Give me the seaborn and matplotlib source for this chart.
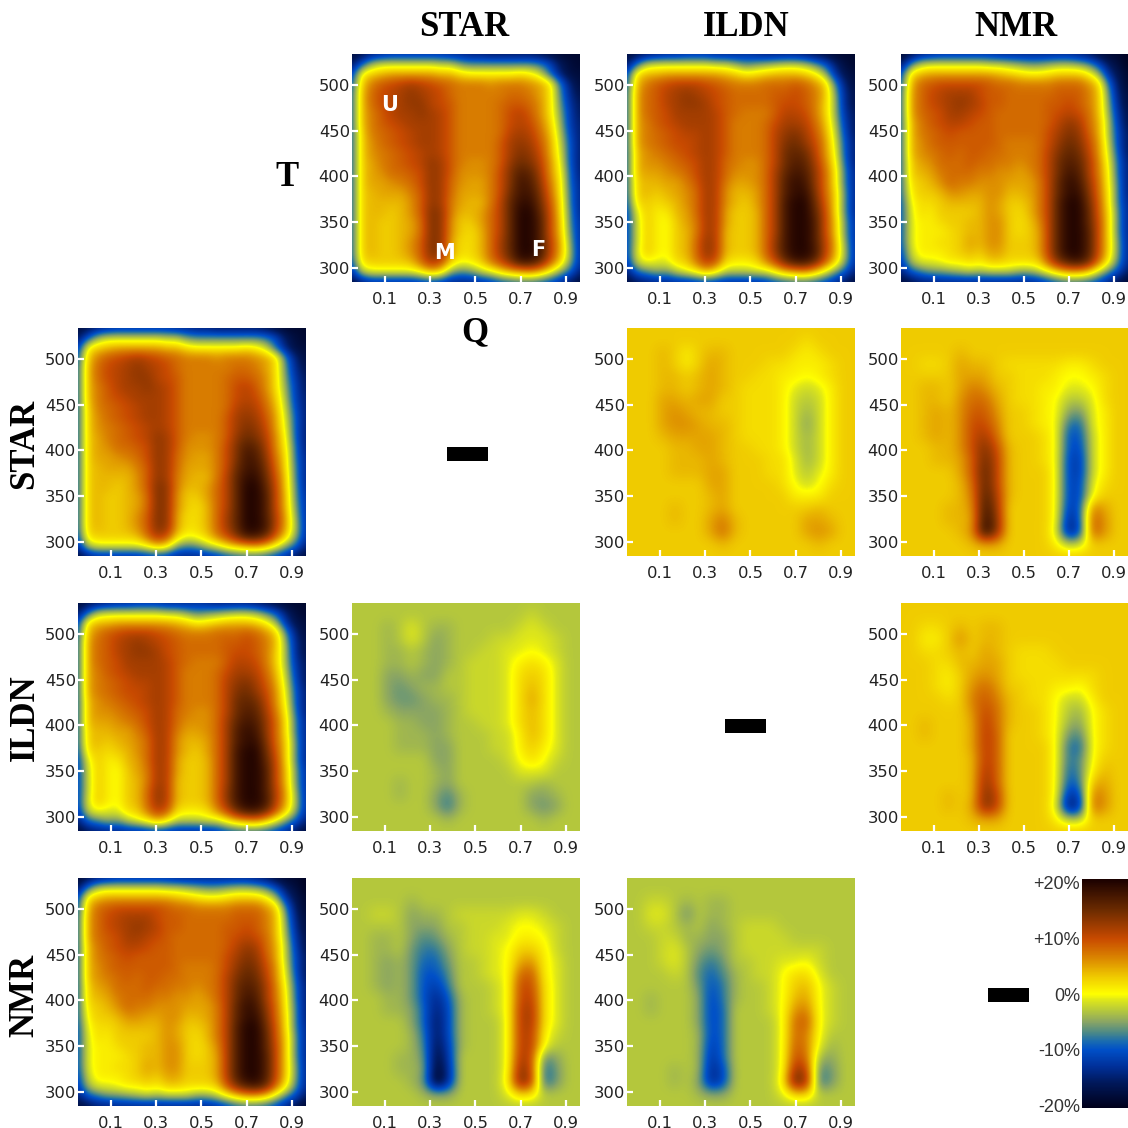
import numpy as np
import pandas as pd
import seaborn as sns
import matplotlib
matplotlib.use("Agg")
import matplotlib.pyplot as plt
from matplotlib.colors import LinearSegmentedColormap, Normalize
from matplotlib.patches import Rectangle

# Population maps (percent-colour scale), rows run from high T to low T
DIST_STAR = [
[-18,-17,-15,-14,-13,-13,-13,-13,-13,-13,-14,-14,-15,-15,-16,-16,-16,-16,-16,-17,-18,-19,-19,-19],
[-16,-10,-4,-2,-2,-2,-2,-2,-2,-3,-3,-6,-7,-7,-7,-7,-7,-7,-7,-8,-11,-16,-18,-19],
[-12,1,3,4,5,5,5,5,5,4,4,2,1,1,1,1,1,2,1,-2,-9,-15,-18,-18],
[-10,3,7,9,10,11,12,11,10,9,8,7,7,7,6,7,7,7,6,5,2,-8,-15,-18],
[-9,4,8,10,11,12,13,12,11,10,8,7,7,7,7,7,8,8,7,5,2,-7,-14,-17],
[-9,4,8,10,11,12,13,13,11,10,9,7,7,7,7,8,9,9,8,6,2,-6,-13,-16],
[-9,4,7,9,11,12,12,13,12,11,9,7,7,7,7,8,10,11,9,6,2,-5,-12,-16],
[-9,4,7,9,10,11,12,12,12,11,9,7,7,7,7,8,10,11,10,7,3,-4,-12,-15],
[-9,3,7,8,9,10,11,12,12,11,9,7,7,7,7,8,11,12,11,8,4,-3,-11,-15],
[-9,3,6,8,9,10,11,12,12,11,9,7,7,7,7,9,12,13,12,9,5,-2,-10,-15],
[-9,3,6,7,8,9,10,11,12,11,9,7,7,7,7,9,12,14,13,10,5,-1,-10,-15],
[-9,3,5,7,8,9,10,11,13,12,9,7,6,6,7,9,13,15,14,11,6,0,-10,-15],
[-9,3,5,6,8,8,9,10,13,12,9,6,6,6,7,10,14,17,16,12,6,1,-9,-15],
[-9,3,5,5,6,7,8,10,13,12,8,6,5,5,7,10,14,18,17,13,7,2,-9,-14],
[-9,3,4,5,5,5,7,9,13,12,8,5,5,5,7,10,15,18,18,14,8,2,-8,-14],
[-9,3,4,4,4,4,6,9,13,12,7,5,4,4,7,11,16,19,19,15,9,3,-8,-14],
[-9,3,4,4,3,4,6,9,14,13,7,4,4,5,8,11,16,20,20,16,10,3,-7,-14],
[-9,3,4,3,3,4,5,8,14,13,6,3,3,5,8,11,16,20,20,17,10,4,-7,-13],
[-9,3,4,3,3,4,5,8,14,13,6,3,2,4,8,11,16,20,20,17,10,4,-6,-13],
[-9,3,4,3,3,4,6,9,14,13,5,2,2,4,8,12,16,20,20,17,11,5,-5,-13],
[-9,3,4,3,3,4,6,9,14,13,5,2,2,4,8,12,16,20,20,18,11,5,-4,-13],
[-10,2,3,3,3,3,4,8,12,10,3,0,1,3,7,10,14,18,18,15,9,3,-5,-13],
[-13,-3,-1,-1,-1,-1,-1,1,4,2,-5,-7,-6,-3,-1,2,4,5,6,4,0,-5,-9,-15],
[-18,-15,-13,-13,-13,-13,-13,-12,-11,-12,-14,-14,-14,-13,-12,-10,-9,-8,-8,-9,-11,-13,-16,-18],
]
DIST_ILDN = [
[-18,-17,-16,-15,-14,-14,-13,-13,-13,-14,-14,-14,-13,-14,-15,-15,-15,-15,-16,-17,-18,-19,-19,-19],
[-16,-9,-3,-2,-2,-2,-2,-2,-2,-3,-3,-5,-7,-6,-5,-4,-3,-3,-4,-7,-10,-15,-18,-19],
[-11,2,4,4,5,5,5,5,5,5,4,3,1,2,3,4,4,4,3,1,-4,-13,-17,-18],
[-10,4,7,9,10,11,11,11,10,9,8,7,7,7,8,8,8,9,8,6,3,-7,-15,-18],
[-9,5,8,9,11,12,13,12,11,10,9,8,8,8,8,9,9,10,9,7,4,-5,-14,-17],
[-9,5,8,9,11,12,13,13,12,10,9,8,8,8,8,9,10,10,9,7,3,-4,-14,-17],
[-9,5,8,9,10,12,12,12,12,11,9,8,7,7,7,9,11,11,10,7,3,-4,-13,-16],
[-9,5,7,9,10,11,12,12,12,11,9,7,7,7,8,10,12,12,11,8,4,-3,-12,-16],
[-9,5,7,8,9,10,11,11,12,11,9,7,7,7,8,11,13,14,12,9,5,-2,-11,-16],
[-9,5,7,8,9,10,10,11,12,11,9,7,7,7,8,11,14,15,13,10,6,-1,-10,-15],
[-9,4,6,7,8,9,10,11,12,11,9,7,7,7,8,11,15,16,15,11,6,0,-10,-15],
[-9,4,6,6,7,8,9,10,12,11,8,7,6,6,8,11,15,17,16,12,7,1,-9,-15],
[-9,4,5,5,6,7,8,10,12,11,8,6,6,6,8,12,16,18,17,13,8,2,-8,-14],
[-9,3,4,4,5,5,7,9,12,11,7,5,5,6,8,12,17,19,18,13,8,2,-8,-14],
[-9,3,4,3,4,5,6,8,12,11,6,4,4,5,8,12,17,19,19,14,8,3,-7,-14],
[-10,2,3,2,3,4,6,8,12,11,6,4,3,5,8,12,18,20,20,15,9,3,-7,-14],
[-11,-1,3,1,1,4,5,8,12,11,5,3,3,4,8,12,18,20,20,16,10,3,-7,-14],
[-11,-2,3,1,0,3,5,7,12,11,5,3,3,4,8,12,18,20,20,17,10,4,-6,-13],
[-11,-2,3,1,0,3,4,7,12,11,4,3,3,4,8,12,18,20,20,17,10,4,-6,-13],
[-11,-2,3,1,0,3,4,8,13,11,4,3,3,4,8,13,18,20,20,17,11,5,-5,-13],
[-11,-1,3,1,0,3,4,8,13,11,4,3,3,4,8,13,18,20,20,18,11,5,-4,-13],
[-12,-2,0,-1,-1,2,3,7,11,9,2,1,1,2,6,10,15,18,18,15,9,3,-5,-13],
[-15,-9,-7,-5,-6,-3,-1,1,4,1,-3,-3,-3,-2,-2,1,4,5,6,3,-1,-6,-10,-15],
[-18,-16,-15,-14,-14,-13,-13,-12,-11,-12,-13,-13,-13,-13,-12,-10,-9,-8,-8,-9,-11,-13,-16,-18],
]
DIST_NMR = [
[-19,-17,-15,-14,-13,-13,-13,-13,-13,-13,-14,-14,-14,-14,-14,-14,-14,-14,-15,-16,-18,-19,-19,-20],
[-16,-8,-3,-2,-2,-2,-2,-2,-2,-3,-3,-4,-5,-6,-6,-5,-4,-4,-5,-7,-11,-16,-18,-20],
[-11,2,4,5,5,5,5,5,5,5,4,3,2,1,1,2,3,3,3,1,-4,-13,-17,-19],
[-10,4,8,9,10,10,10,10,10,9,8,8,7,7,7,7,8,8,8,6,3,-8,-16,-19],
[-9,5,8,10,11,12,12,12,10,9,9,8,8,8,8,8,9,9,9,7,4,-6,-15,-18],
[-9,5,8,10,11,12,13,12,11,9,9,8,8,8,8,9,9,10,9,7,4,-5,-14,-18],
[-9,5,8,9,10,12,12,11,10,9,8,8,8,8,8,9,10,11,10,8,4,-4,-13,-17],
[-9,4,7,9,10,11,11,10,9,9,8,8,8,8,8,9,11,13,12,8,5,-3,-12,-17],
[-9,4,7,8,9,10,9,9,9,9,8,8,8,8,8,10,12,14,13,9,5,-3,-11,-16],
[-9,4,6,8,9,9,9,9,9,9,8,7,7,7,8,10,13,15,14,10,6,-2,-11,-16],
[-9,4,6,7,8,9,8,9,9,8,8,7,7,7,8,11,14,16,15,11,6,-1,-10,-16],
[-9,3,5,6,8,8,8,9,8,8,7,7,6,7,8,11,15,17,16,12,7,0,-9,-15],
[-9,3,4,5,7,8,8,8,7,7,6,6,5,6,8,11,15,18,17,12,7,1,-9,-15],
[-9,2,3,4,6,8,7,7,6,6,6,5,5,5,7,11,16,19,18,13,8,1,-8,-15],
[-9,1,3,3,4,6,6,5,5,6,6,4,4,5,7,11,16,19,19,14,8,2,-8,-15],
[-10,0,2,2,3,4,4,4,4,6,5,3,3,4,7,11,17,20,20,15,9,2,-8,-14],
[-10,-1,2,1,3,3,3,3,4,6,5,3,2,4,7,11,17,20,20,16,9,3,-7,-14],
[-10,-1,1,1,2,3,3,4,4,6,6,3,2,3,6,11,17,20,20,16,10,3,-7,-14],
[-10,-1,1,1,1,2,3,4,4,6,6,3,2,3,5,11,17,20,20,17,10,3,-7,-14],
[-10,-1,1,1,2,2,3,5,4,6,6,3,3,3,5,11,17,20,20,17,10,3,-6,-14],
[-11,-2,1,1,1,2,3,4,3,5,5,3,3,3,5,11,17,20,20,17,10,3,-6,-14],
[-12,-4,-1,-1,0,1,1,2,1,3,3,2,2,2,3,9,14,17,18,15,8,1,-7,-14],
[-15,-10,-8,-6,-6,-5,-4,-3,-4,-3,-3,-3,-5,-5,-3,0,3,5,5,3,-2,-7,-11,-16],
[-18,-17,-15,-15,-14,-14,-14,-14,-14,-14,-14,-14,-14,-14,-13,-11,-9,-8,-8,-9,-11,-14,-17,-19],
]

# Difference maps in percent
DIFF_STAR_ILDN = [
[3,3,3,3,3,3,3,3,3,3,3,3,3,3,3,3,3,3,3,3],
[3,3,3,3,3,3,3,3,3,3,3,3,3,3,3,2,3,3,3,3],
[3,3,3,4,3,1,3,4,4,3,3,3,3,3,2,1,2,3,3,3],
[3,3,3,4,3,1,3,5,4,3,3,3,2,2,1,1,1,2,3,3],
[3,3,3,4,4,3,4,5,4,3,3,2,2,1,1,0,1,2,3,3],
[3,3,3,4,4,3,4,5,4,3,2,2,2,1,-1,-2,-1,1,3,3],
[3,3,3,5,5,4,5,5,3,3,2,2,2,1,-2,-3,-2,1,3,3],
[3,3,3,5,6,5,4,4,3,3,2,2,2,1,-2,-4,-2,1,3,3],
[3,3,3,5,6,6,5,4,4,3,2,2,2,1,-2,-5,-2,1,3,3],
[3,3,3,4,5,5,5,5,4,3,2,2,2,1,-2,-4,-2,1,3,3],
[3,3,3,3,4,4,5,5,4,3,3,2,2,1,-2,-4,-2,1,3,3],
[3,3,3,3,4,4,4,5,4,3,3,3,2,2,-1,-4,-2,1,3,3],
[3,3,3,3,4,4,4,5,5,3,3,3,2,2,-1,-3,-1,1,3,3],
[3,3,3,3,3,3,3,5,5,3,3,3,3,2,0,-2,0,2,3,3],
[3,3,3,3,3,3,3,4,5,3,3,3,3,3,1,1,1,3,3,3],
[3,3,3,3,4,3,3,4,5,3,3,3,3,3,3,3,4,3,3,3],
[3,3,3,3,4,3,3,5,7,4,3,3,3,3,3,5,5,4,3,3],
[3,3,3,3,3,3,3,5,8,4,3,3,3,3,3,5,6,5,3,3],
[3,3,3,3,3,3,3,3,4,3,3,3,3,3,3,3,4,3,3,3],
[3,3,3,3,3,3,3,3,3,3,3,3,3,3,3,3,3,3,3,3],
]
DIFF_STAR_NMR = [
[3,3,3,3,3,3,3,3,3,3,3,3,3,3,3,3,3,3,3,3],
[3,3,3,3,3,3,3,3,3,3,3,3,3,3,3,3,3,3,3,3],
[3,3,3,3,3,4,3,3,3,3,3,3,3,3,3,3,3,3,3,3],
[3,3,2,2,3,5,4,4,3,2,2,2,2,2,1,1,2,3,3,3],
[3,3,3,3,3,5,5,5,3,3,2,2,2,1,0,0,1,2,3,3],
[3,3,4,4,3,5,7,6,4,3,2,2,1,1,-1,-1,0,2,3,3],
[3,3,4,4,3,6,8,8,5,3,2,2,1,0,-3,-3,-1,2,3,3],
[3,3,4,5,4,6,9,9,6,3,3,2,1,0,-5,-6,-1,1,3,3],
[3,3,4,5,4,6,10,10,7,3,3,2,1,0,-8,-9,-1,1,3,3],
[3,3,4,5,4,6,10,12,8,3,3,3,2,0,-10,-10,-2,1,3,3],
[3,3,3,4,4,6,10,14,10,4,3,3,2,0,-10,-11,-2,1,3,3],
[3,3,3,4,4,5,9,15,11,4,3,3,2,0,-11,-12,-2,1,3,3],
[3,3,3,3,3,5,9,16,11,4,3,3,3,0,-11,-12,-2,1,3,3],
[3,3,3,3,3,4,8,16,11,4,3,3,3,0,-11,-11,-1,2,3,3],
[3,3,3,3,3,4,7,17,12,4,3,3,3,0,-11,-11,0,3,3,3],
[3,3,3,3,4,4,6,18,13,3,3,3,3,0,-12,-10,7,5,3,3],
[3,3,3,3,4,4,5,19,14,3,3,3,3,0,-14,-10,9,6,3,3],
[3,3,3,3,3,4,6,20,14,3,3,3,3,-1,-15,-11,9,6,3,3],
[3,3,3,3,3,3,4,5,5,3,3,3,3,1,-3,-2,3,3,3,3],
[3,3,3,3,3,3,3,3,3,3,3,3,3,3,3,3,3,3,3,3],
]
DIFF_ILDN_NMR = [
[3,3,3,3,3,3,3,3,3,3,3,3,3,3,3,3,3,3,3,3],
[3,3,3,3,3,3,3,3,3,3,3,3,3,3,3,3,3,3,3,3],
[3,3,2,2,3,4,3,4,4,3,3,3,3,3,3,3,3,3,3,3],
[3,3,1,1,3,6,3,4,4,3,3,3,3,3,3,3,3,3,3,3],
[3,3,2,2,3,4,3,5,4,3,2,2,2,3,3,3,3,3,3,3],
[3,3,3,2,2,4,4,5,5,3,2,2,2,2,3,3,3,3,3,3],
[3,3,3,2,1,3,5,6,5,3,2,2,2,2,2,2,2,3,3,3],
[3,3,3,2,1,3,6,8,6,3,3,2,2,1,1,0,2,3,3,3],
[3,3,3,3,2,3,7,9,7,4,3,2,2,0,-2,-2,1,3,3,3],
[3,3,3,3,3,3,6,10,8,4,3,3,2,0,-3,-4,0,2,3,3],
[3,3,4,3,3,3,5,11,8,4,3,3,2,0,-4,-5,0,2,3,3],
[3,3,4,3,3,3,5,11,9,3,3,3,2,0,-6,-7,0,2,3,3],
[3,3,3,3,3,3,5,11,9,3,3,3,3,0,-8,-9,0,2,3,3],
[3,3,3,3,3,3,4,11,9,3,3,3,3,0,-8,-7,0,3,3,3],
[3,3,3,3,3,3,4,12,9,3,3,3,3,0,-9,-7,1,4,3,3],
[3,3,3,3,3,3,4,13,9,3,3,3,3,0,-10,-8,4,5,3,3],
[3,3,3,3,4,3,4,14,11,3,3,3,3,0,-13,-11,7,6,3,3],
[3,3,3,3,4,3,5,14,11,3,3,3,3,-1,-16,-13,8,6,3,3],
[3,3,3,3,3,3,4,5,5,3,3,3,3,1,-3,-3,3,3,3,3],
[3,3,3,3,3,3,3,3,3,3,3,3,3,3,3,3,3,3,3,3],
]

Q_TICKS = [0.1, 0.3, 0.5, 0.7, 0.9]
T_TICKS = [500, 450, 400, 350, 300]
Q_RANGE = (-0.046, 0.963)
T_RANGE = (284.5, 534.0)
METHODS = ["STAR", "ILDN", "NMR"]
CBAR_TICKS = [20, 10, 0, -10, -20]
CBAR_LABELS = ["+20%", "+10%", "0%", "-10%", "-20%"]
VMIN, VMAX = -20.5, 20.7

STOPS = [(-20.5, "#00001a"), (-16, "#00185a"), (-13, "#00309a"), (-10, "#0050c8"),
         (-8.5, "#1a6cb0"), (-7, "#4a8888"), (-5, "#8aa564"), (-3, "#b5c83c"),
         (-1, "#e0e818"), (0, "#ffff00"), (3, "#f0cc00"), (5, "#e4a400"),
         (7, "#d87c00"), (10, "#c84a00"), (15, "#6e2c00"), (20.7, "#1a0000")]
cmap = LinearSegmentedColormap.from_list(
    "pct", [((v - VMIN) / (VMAX - VMIN), c) for v, c in STOPS], N=512)
norm = Normalize(VMIN, VMAX)

sns.set_theme(style="white", rc={"axes.grid": False})
W = 1128.0
fig = plt.figure(figsize=(11.28, 11.28), dpi=100)
fig.patch.set_facecolor("white")
XS = [78, 352, 627, 901]
YS = [54, 328, 603, 878]
SIZE = 228


def px_axes(x, y, w, h):
    return fig.add_axes([x / W, 1 - (y + h) / W, w / W, h / W])


def panel(col, row, grid):
    ax = px_axes(XS[col], YS[row], SIZE - (1 if col == 3 else 0), SIZE)
    arr = np.asarray(grid, dtype=float)
    m, n = arr.shape
    frame = pd.DataFrame(arr)
    sns.heatmap(frame, ax=ax, cmap=cmap, norm=norm, cbar=False,
                xticklabels=False, yticklabels=False)
    ax.collections[0].remove()
    ax.imshow(arr, cmap=cmap, norm=norm, extent=(0, n, m, 0), aspect="auto",
              interpolation="bicubic", interpolation_stage="data")
    ax.set_xlim(0.5, n - 0.5)
    ax.set_ylim(m - 0.5, 0.5)
    qx = [0.5 + (q - Q_RANGE[0]) / (Q_RANGE[1] - Q_RANGE[0]) * (n - 1) for q in Q_TICKS]
    ty = [0.5 + (T_RANGE[1] - t) / (T_RANGE[1] - T_RANGE[0]) * (m - 1) for t in T_TICKS]
    ax.set_xticks(qx, [str(q) for q in Q_TICKS])
    ax.set_yticks(ty, [str(t) for t in T_TICKS], rotation=0)
    ax.tick_params(axis="both", which="major", direction="in", length=4.5, width=1.6,
                   color="white", labelsize=11.8, labelcolor="#222222",
                   bottom=True, left=True, top=False, right=False)
    ax.tick_params(axis="x", pad=7)
    ax.tick_params(axis="y", pad=1.5)
    for s in ax.spines.values():
        s.set_visible(False)
    return ax


dists = [DIST_STAR, DIST_ILDN, DIST_NMR]
for i, g in enumerate(dists):
    panel(i + 1, 0, g)
    panel(0, i + 1, g)

neg = lambda g: (-np.asarray(g, dtype=float)).tolist()
panel(2, 1, DIFF_STAR_ILDN)
panel(3, 1, DIFF_STAR_NMR)
panel(3, 2, DIFF_ILDN_NMR)
panel(1, 2, neg(DIFF_STAR_ILDN))
panel(1, 3, neg(DIFF_STAR_NMR))
panel(2, 3, neg(DIFF_ILDN_NMR))

SERIF = "Liberation Serif"


def ftext(x, y, s, **kw):
    fig.text(x / W, 1 - y / W, s, ha="center", va="center", **kw)


for x, name in zip([464, 746, 1016], METHODS):
    ftext(x, 28, name, family=SERIF, weight="bold", fontsize=25, color="black")
for y, name in zip([444, 718, 995], METHODS):
    ftext(25, y, name, family=SERIF, weight="bold", fontsize=25, color="black", rotation=90)
ftext(287, 177, "T", family=SERIF, weight="bold", fontsize=25, color="black")
ftext(475, 333, "Q", family=SERIF, weight="bold", fontsize=25, color="black")
for x, y, s in [(390, 105, "U"), (445, 253, "M"), (538, 250, "F")]:
    ftext(x, y, s, weight="bold", fontsize=15, color="white")

for x, y in [(447, 447), (725, 719), (988, 988)]:
    fig.add_artist(Rectangle((x / W, 1 - (y + 14) / W), 41 / W, 14 / W,
                             transform=fig.transFigure, facecolor="black", edgecolor="none"))

cax = px_axes(1082, 879, 46, 229)
sm = plt.cm.ScalarMappable(norm=norm, cmap=cmap)
cb = fig.colorbar(sm, cax=cax, ticks=CBAR_TICKS)
cb.ax.yaxis.set_ticks_position("left")
cb.ax.set_yticklabels(CBAR_LABELS, family="Liberation Sans", fontsize=13, color="#333333")
cb.ax.tick_params(axis="y", direction="in", length=8.6, width=1.8, color="white", pad=1.5)
cb.outline.set_visible(False)

fig.savefig("out.png", dpi=100, facecolor="white")
